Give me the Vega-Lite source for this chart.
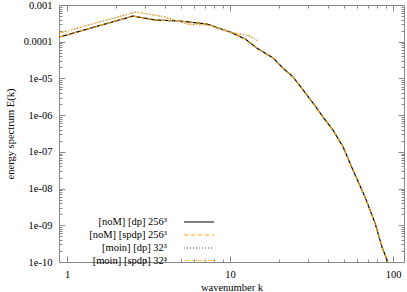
{
  "$schema": "https://vega.github.io/schema/vega-lite/v6.json",
  "width": 345,
  "height": 257,
  "autosize": {"type": "none"},
  "padding": {"left": 59, "top": 5, "right": 3, "bottom": 30},
  "background": "white",
  "config": {
    "view": {"stroke": "#888888", "strokeWidth": 1},
    "font": "Liberation Serif",
    "axis": {"domain": false, "grid": false, "labelFont": "Liberation Serif", "labelFontSize": 10.5, "labelColor": "#000", "titleFont": "Liberation Serif", "titleFontSize": 10.5, "titleFontWeight": "normal", "titleColor": "#000", "tickColor": "#888888", "labelOverlap": false, "labelFlush": false},
    "legend": {"labelFont": "Liberation Serif", "labelFontSize": 10.5, "labelColor": "#000"}
  },
  "data": {"values": [
    {"s": "[noM] [dp] 256³", "k": 0.9, "E": 1.34e-4},
    {"s": "[noM] [dp] 256³", "k": 2.54, "E": 5.0e-4},
    {"s": "[noM] [dp] 256³", "k": 3.47, "E": 3.9e-4},
    {"s": "[noM] [dp] 256³", "k": 4.94, "E": 3.66e-4},
    {"s": "[noM] [dp] 256³", "k": 7.23, "E": 3.03e-4},
    {"s": "[noM] [dp] 256³", "k": 10.0, "E": 1.84e-4},
    {"s": "[noM] [dp] 256³", "k": 12.4, "E": 1.19e-4},
    {"s": "[noM] [dp] 256³", "k": 14.6, "E": 6.7e-5},
    {"s": "[noM] [dp] 256³", "k": 18.4, "E": 3.6e-5},
    {"s": "[noM] [dp] 256³", "k": 21.1, "E": 1.92e-5},
    {"s": "[noM] [dp] 256³", "k": 24.4, "E": 1.09e-5},
    {"s": "[noM] [dp] 256³", "k": 28.1, "E": 4.84e-6},
    {"s": "[noM] [dp] 256³", "k": 32.3, "E": 2.14e-6},
    {"s": "[noM] [dp] 256³", "k": 37.2, "E": 8.9e-7},
    {"s": "[noM] [dp] 256³", "k": 42.8, "E": 3.94e-7},
    {"s": "[noM] [dp] 256³", "k": 49.4, "E": 1.36e-7},
    {"s": "[noM] [dp] 256³", "k": 56.8, "E": 3.2e-8},
    {"s": "[noM] [dp] 256³", "k": 67.3, "E": 5.9e-9},
    {"s": "[noM] [dp] 256³", "k": 77.6, "E": 1.15e-9},
    {"s": "[noM] [dp] 256³", "k": 85.6, "E": 2.56e-10},
    {"s": "[noM] [dp] 256³", "k": 91.9, "E": 1.13e-10},
    {"s": "[noM] [dp] 256³", "k": 96.0, "E": 6.0e-11},
    {"s": "[noM] [spdp] 256³", "k": 0.9, "E": 1.34e-4},
    {"s": "[noM] [spdp] 256³", "k": 2.54, "E": 5.0e-4},
    {"s": "[noM] [spdp] 256³", "k": 3.47, "E": 3.9e-4},
    {"s": "[noM] [spdp] 256³", "k": 4.94, "E": 3.66e-4},
    {"s": "[noM] [spdp] 256³", "k": 7.23, "E": 3.03e-4},
    {"s": "[noM] [spdp] 256³", "k": 10.0, "E": 1.84e-4},
    {"s": "[noM] [spdp] 256³", "k": 12.4, "E": 1.19e-4},
    {"s": "[noM] [spdp] 256³", "k": 14.6, "E": 6.7e-5},
    {"s": "[noM] [spdp] 256³", "k": 18.4, "E": 3.6e-5},
    {"s": "[noM] [spdp] 256³", "k": 21.1, "E": 1.92e-5},
    {"s": "[noM] [spdp] 256³", "k": 24.4, "E": 1.09e-5},
    {"s": "[noM] [spdp] 256³", "k": 28.1, "E": 4.84e-6},
    {"s": "[noM] [spdp] 256³", "k": 32.3, "E": 2.14e-6},
    {"s": "[noM] [spdp] 256³", "k": 37.2, "E": 8.9e-7},
    {"s": "[noM] [spdp] 256³", "k": 42.8, "E": 3.94e-7},
    {"s": "[noM] [spdp] 256³", "k": 49.4, "E": 1.36e-7},
    {"s": "[noM] [spdp] 256³", "k": 56.8, "E": 3.2e-8},
    {"s": "[noM] [spdp] 256³", "k": 67.3, "E": 5.9e-9},
    {"s": "[noM] [spdp] 256³", "k": 77.6, "E": 1.15e-9},
    {"s": "[noM] [spdp] 256³", "k": 85.6, "E": 2.56e-10},
    {"s": "[noM] [spdp] 256³", "k": 91.9, "E": 1.13e-10},
    {"s": "[noM] [spdp] 256³", "k": 96.0, "E": 6.0e-11},
    {"s": "[moin] [dp] 32³", "k": 0.9, "E": 1.73e-4},
    {"s": "[moin] [dp] 32³", "k": 2.65, "E": 6.45e-4},
    {"s": "[moin] [dp] 32³", "k": 3.99, "E": 4.71e-4},
    {"s": "[moin] [dp] 32³", "k": 5.45, "E": 3.03e-4},
    {"s": "[moin] [dp] 32³", "k": 7.23, "E": 2.85e-4},
    {"s": "[moin] [dp] 32³", "k": 9.05, "E": 2.08e-4},
    {"s": "[moin] [dp] 32³", "k": 10.7, "E": 1.73e-4},
    {"s": "[moin] [dp] 32³", "k": 13.2, "E": 1.43e-4},
    {"s": "[moin] [dp] 32³", "k": 14.9, "E": 1.05e-4},
    {"s": "[moin] [spdp] 32³", "k": 0.9, "E": 1.73e-4},
    {"s": "[moin] [spdp] 32³", "k": 2.65, "E": 6.45e-4},
    {"s": "[moin] [spdp] 32³", "k": 3.99, "E": 4.71e-4},
    {"s": "[moin] [spdp] 32³", "k": 5.45, "E": 3.03e-4},
    {"s": "[moin] [spdp] 32³", "k": 7.23, "E": 2.85e-4},
    {"s": "[moin] [spdp] 32³", "k": 9.05, "E": 2.08e-4},
    {"s": "[moin] [spdp] 32³", "k": 10.7, "E": 1.73e-4},
    {"s": "[moin] [spdp] 32³", "k": 13.2, "E": 1.43e-4},
    {"s": "[moin] [spdp] 32³", "k": 14.9, "E": 1.05e-4}
  ]},
  "layer": [
    {
      "mark": {"type": "line", "clip": true},
      "encoding": {
        "x": {"field": "k", "type": "quantitative",
          "scale": {"type": "log", "domain": [0.893, 116.8], "nice": false, "zero": false},
          "axis": {"orient": "bottom", "title": "wavenumber k", "titlePadding": 0,
            "values": [1,2,3,4,5,6,7,8,9,10,20,30,40,50,60,70,80,90,100],
            "tickSize": {"condition": {"test": "abs(log(datum.value)/LN10 - round(log(datum.value)/LN10)) < 0.001", "value": -6}, "value": -3},
            "labelPadding": 13,
            "labelExpr": "abs(log(datum.value)/LN10 - round(log(datum.value)/LN10)) < 0.001 ? format(datum.value, 'd') : ''"}},
        "y": {"field": "E", "type": "quantitative",
          "scale": {"type": "log", "domain": [1e-10, 1e-3], "nice": false, "zero": false},
          "axis": {"orient": "left", "title": "energy spectrum E(k)", "titlePadding": 8,
            "values": [1e-10,2e-10,3e-10,4e-10,5e-10,6e-10,7e-10,8e-10,9e-10,1e-9,2e-9,3e-9,4e-9,5e-9,6e-9,7e-9,8e-9,9e-9,1e-8,2e-8,3e-8,4e-8,5e-8,6e-8,7e-8,8e-8,9e-8,1e-7,2e-7,3e-7,4e-7,5e-7,6e-7,7e-7,8e-7,9e-7,1e-6,2e-6,3e-6,4e-6,5e-6,6e-6,7e-6,8e-6,9e-6,1e-5,2e-5,3e-5,4e-5,5e-5,6e-5,7e-5,8e-5,9e-5,1e-4,2e-4,3e-4,4e-4,5e-4,6e-4,7e-4,8e-4,9e-4,1e-3],
            "tickSize": {"condition": {"test": "abs(log(datum.value)/LN10 - round(log(datum.value)/LN10)) < 0.001", "value": -6}, "value": -3},
            "labelPadding": 13,
            "labelExpr": "abs(log(datum.value)/LN10 - round(log(datum.value)/LN10)) < 0.001 ? (round(log(datum.value)/LN10) == -3 ? '0.001' : round(log(datum.value)/LN10) == -4 ? '0.0001' : '1e-' + (round(log(datum.value)/LN10) > -10 ? '0' : '') + (-round(log(datum.value)/LN10))) : ''"}},
        "color": {"field": "s", "type": "nominal",
          "scale": {"domain": ["[noM] [dp] 256³", "[noM] [spdp] 256³", "[moin] [dp] 32³", "[moin] [spdp] 32³"],
                    "range": ["#000000", "#ffa500", "#505050", "#ffc550"]},
          "legend": {"orient": "none", "legendX": 134, "legendY": 211, "title": null, "padding": 0,
            "symbolType": "M-3,0H3", "symbolSize": 100, "symbolStrokeWidth": 1.2,
            "labelAlign": "right", "labelOffset": -38, "rowPadding": 1}},
        "strokeDash": {"field": "s", "type": "nominal",
          "scale": {"domain": ["[noM] [dp] 256³", "[noM] [spdp] 256³", "[moin] [dp] 32³", "[moin] [spdp] 32³"],
                    "range": [[1, 0], [4, 3], [1, 2], [6, 2, 2, 2]]}},
        "strokeWidth": {"field": "s", "type": "nominal",
          "scale": {"domain": ["[noM] [dp] 256³", "[noM] [spdp] 256³", "[moin] [dp] 32³", "[moin] [spdp] 32³"],
                    "range": [1.2, 1, 1, 1.6]}, "legend": null}
      }
    },
    {
      "mark": {"type": "line", "opacity": 0},
      "encoding": {
        "x": {"field": "k", "type": "quantitative",
          "axis": {"orient": "top", "title": null, "labels": false,
            "values": [1,2,3,4,5,6,7,8,9,10,20,30,40,50,60,70,80,90,100],
            "tickSize": {"condition": {"test": "abs(log(datum.value)/LN10 - round(log(datum.value)/LN10)) < 0.001", "value": -6}, "value": -3}}},
        "y": {"field": "E", "type": "quantitative",
          "axis": {"orient": "right", "title": null, "labels": false,
            "values": [1e-10,2e-10,3e-10,4e-10,5e-10,6e-10,7e-10,8e-10,9e-10,1e-9,2e-9,3e-9,4e-9,5e-9,6e-9,7e-9,8e-9,9e-9,1e-8,2e-8,3e-8,4e-8,5e-8,6e-8,7e-8,8e-8,9e-8,1e-7,2e-7,3e-7,4e-7,5e-7,6e-7,7e-7,8e-7,9e-7,1e-6,2e-6,3e-6,4e-6,5e-6,6e-6,7e-6,8e-6,9e-6,1e-5,2e-5,3e-5,4e-5,5e-5,6e-5,7e-5,8e-5,9e-5,1e-4,2e-4,3e-4,4e-4,5e-4,6e-4,7e-4,8e-4,9e-4,1e-3],
            "tickSize": {"condition": {"test": "abs(log(datum.value)/LN10 - round(log(datum.value)/LN10)) < 0.001", "value": -6}, "value": -3}}},
        "detail": {"field": "s", "type": "nominal"}
      }
    }
  ],
  "resolve": {"axis": {"x": "independent", "y": "independent"}}
}
